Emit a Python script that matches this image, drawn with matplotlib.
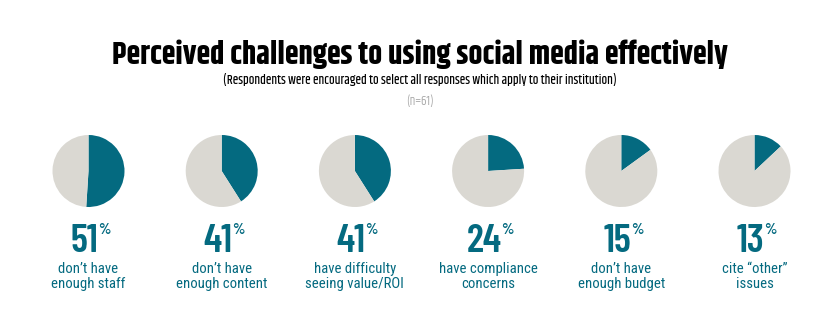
import matplotlib
matplotlib.use("Agg")
import matplotlib.pyplot as plt
from matplotlib.textpath import TextPath
from matplotlib.font_manager import FontProperties

# Data
percentages = [51, 41, 41, 24, 15, 13]
labels = ["don\u2019t have\nenough staff", "don\u2019t have\nenough content",
          "have difficulty\nseeing value/ROI", "have compliance\nconcerns",
          "don\u2019t have\nenough budget", "cite \u201cother\u201d\nissues"]
title = "Perceived challenges to using social media effectively"
subtitle = "(Respondents were encouraged to select all responses which apply to their institution)"
note = "(n=61)"

TEAL = "#046A80"
GREY = "#DAD8D2"
W, H = 840, 334
fig = plt.figure(figsize=(W/100, H/100), dpi=100)
renderer = fig.canvas.get_renderer()

TITLE_FONT = "Khand"
SUB_FONT = "Khand"
NUM_FONT = "Barlow Condensed"
NUM_WEIGHT = 600
LAB_FONT = "Roboto Condensed"


def width_fit(text, family, weight, target_px):
    t = fig.text(0, 0, text, fontsize=10, family=family, fontweight=weight)
    w = t.get_window_extent(renderer).width
    t.remove()
    return 10 * target_px / w


def ink_height_fit(text, family, weight, target_px):
    fp = FontProperties(family=family, weight=weight, size=10)
    ext = TextPath((0, 0), text, prop=fp).get_extents()
    return 10 * target_px / (ext.height * 100 / 72)


ts = width_fit(title, TITLE_FONT, "bold", 614)
fig.text(420/W, 1-54/H, title, ha="center", va="center", fontsize=ts, fontweight="bold",
         family=TITLE_FONT, color="black")
ss = width_fit(subtitle, SUB_FONT, "medium", 394)
fig.text(420/W, 1-79/H, subtitle, ha="center", va="center", fontsize=ss, fontweight="medium",
         family=SUB_FONT, color="black")
fig.text(420/W, 1-101/H, note, ha="center", va="center", fontsize=ss, fontweight="normal",
         family=SUB_FONT, color="#A8A8A8")

x0, dx = 88.5, 133.2
cy, r = 171, 36
ns = ink_height_fit("51", NUM_FONT, NUM_WEIGHT, 28)
ps = ink_height_fit("%", NUM_FONT, NUM_WEIGHT, 11.5)
ls = width_fit("have compliance", LAB_FONT, "normal", 98)

for i, (p, lab) in enumerate(zip(percentages, labels)):
    cx = x0 + i*dx
    ax = fig.add_axes([(cx-r)/W, (H-cy-r)/H, 2*r/W, 2*r/H])
    ax.pie([p, 100-p], colors=[TEAL, GREY], startangle=90, counterclock=False,
           radius=1, wedgeprops=dict(linewidth=0))
    ax.set_xlim(-1, 1); ax.set_ylim(-1, 1)
    ax.set_aspect("equal")
    ax.axis("off")
    # number with superscript percent, group centred under the pie
    t = fig.text(0, 1-252/H, str(p), ha="left", va="baseline", fontsize=ns,
                 fontweight=NUM_WEIGHT, family=NUM_FONT, color=TEAL)
    pt = fig.text(0, 1-234.5/H, "%", ha="left", va="baseline", fontsize=ps,
                  fontweight=NUM_WEIGHT, family=NUM_FONT, color=TEAL)
    wn = t.get_window_extent(renderer).width
    wp = pt.get_window_extent(renderer).width
    gap = 0
    left = cx + 2 - (wn + gap + wp) / 2
    t.set_x(left / W)
    pt.set_x((left + wn + gap) / W)
    fig.text(cx/W, 1-276.5/H, lab, ha="center", va="center", fontsize=ls,
             family=LAB_FONT, color=TEAL, linespacing=1.15)

fig.savefig("out.png", dpi=100)
